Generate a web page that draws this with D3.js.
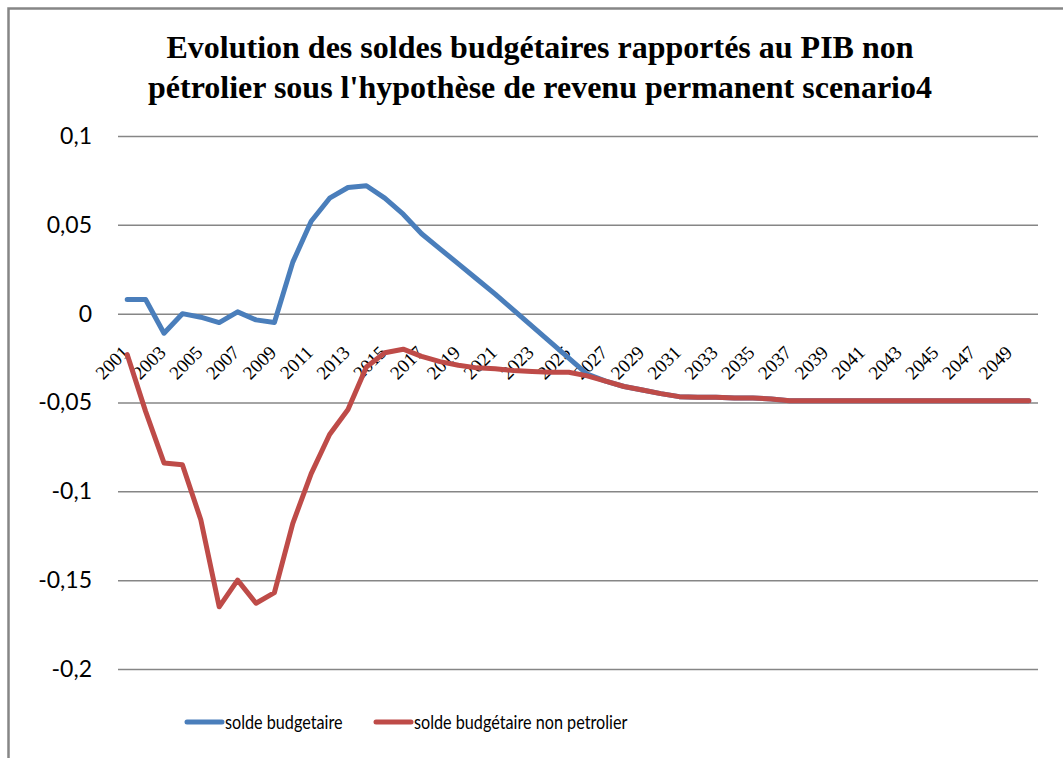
<!DOCTYPE html>
<html>
<head>
<meta charset="utf-8">
<script src="https://cdn.jsdelivr.net/npm/d3@7"></script>
<style>
  body { margin: 0; background: #fff; }
  svg { display: block; }
  .title { font-family: "Liberation Serif", "Times New Roman", serif; font-weight: bold; font-size: 32px; }
  .yax text { font-family: Lato, sans-serif; font-size: 23px; fill: #000; }
  .xax text { font-family: "Liberation Serif", serif; font-size: 19px; fill: #000; }
  .legend text { font-family: Lato, sans-serif; font-size: 20px; }
</style>
</head>
<body>
<div id="chart"></div>
<script>
// years on the category axis
const years = d3.range(2001, 2051);

// solde budgetaire (share of non-oil GDP)
const soldeBudget = [
  0.008, 0.008, -0.011, 0.000, -0.002, -0.005, 0.001, -0.0035, -0.005, 0.029,
  0.052, 0.065, 0.071, 0.072, 0.065, 0.056, 0.045, 0.0365, 0.028, 0.0195,
  0.011, 0.002, -0.007, -0.016, -0.025, -0.034, -0.038, -0.041, -0.043, -0.045,
  -0.0467, -0.047, -0.047, -0.0475, -0.0475, -0.048, -0.049, -0.049, -0.049, -0.049,
  -0.049, -0.049, -0.049, -0.049, -0.049, -0.049, -0.049, -0.049, -0.049, -0.049
];

// solde budgetaire non petrolier
const soldeNonPetrolier = [
  -0.023, -0.055, -0.084, -0.085, -0.116, -0.165, -0.150, -0.163, -0.157, -0.118,
  -0.090, -0.068, -0.054, -0.030, -0.022, -0.020, -0.024, -0.027, -0.029, -0.0305,
  -0.031, -0.032, -0.0325, -0.033, -0.033, -0.035, -0.038, -0.041, -0.043, -0.045,
  -0.0467, -0.047, -0.047, -0.0475, -0.0475, -0.048, -0.049, -0.049, -0.049, -0.049,
  -0.049, -0.049, -0.049, -0.049, -0.049, -0.049, -0.049, -0.049, -0.049, -0.049
];

const yTicks = [-0.2, -0.15, -0.1, -0.05, 0, 0.05, 0.1];
const xTickYears = years.filter(y => y % 2 === 1);

const series = [
  { name: 'solde budgetaire', values: soldeBudget, color: '#4a7ebb' },
  { name: 'solde budgétaire non petrolier', values: soldeNonPetrolier, color: '#be4b48' }
];

const W = 1063, H = 758;
const plotL = 118, plotR = 1038, plotT = 136, plotB = 669;

const svg = d3.select('#chart').append('svg')
  .attr('width', W)
  .attr('height', H);

// outer frame (only top and left are visible in the picture)
svg.append('path')
  .attr('d', `M8.5,${H + 5}V8.5H${W + 5}`)
  .attr('fill', 'none')
  .attr('stroke', '#868686')
  .attr('stroke-width', 2.5);

svg.append('text')
  .attr('class', 'title')
  .attr('text-anchor', 'middle')
  .selectAll('tspan')
  .data(["Evolution des soldes budgétaires rapportés au PIB non",
         "pétrolier sous l'hypothèse de revenu permanent scenario4"])
  .enter().append('tspan')
  .attr('x', 540)
  .attr('y', (d, i) => 58 + i * 40)
  .text(d => d);

const x = d3.scaleBand()
  .domain(years)
  .range([plotL, plotR]);

const y = d3.scaleLinear()
  .domain([-0.2, 0.1])
  .range([plotB, plotT]);

const fmt = v => String(+v.toFixed(2)).replace('.', ',');

// value axis + gridlines
const yAxis = svg.append('g')
  .attr('class', 'yax')
  .attr('transform', `translate(${plotL},0)`)
  .call(d3.axisLeft(y)
    .tickValues(yTicks)
    .tickSize(-(plotR - plotL))
    .tickPadding(26)
    .tickFormat(fmt));
yAxis.select('.domain').remove();
yAxis.selectAll('line')
  .attr('stroke', '#868686')
  .attr('stroke-width', 1.5);

// category axis, crossing at zero
const xAxis = svg.append('g')
  .attr('class', 'xax')
  .attr('transform', `translate(0,${y(0)})`)
  .call(d3.axisBottom(x)
    .tickValues(xTickYears)
    .tickSize(0));
xAxis.select('.domain').remove();
xAxis.selectAll('text')
  .attr('text-anchor', 'end')
  .attr('dy', null)
  .attr('y', 0)
  .attr('transform', 'translate(3,40) rotate(-45)');

const line = d3.line()
  .x((d, i) => x(years[i]) + x.bandwidth() / 2)
  .y(d => y(d));

svg.append('g')
  .selectAll('path')
  .data(series)
  .enter().append('path')
  .attr('d', d => line(d.values))
  .attr('fill', 'none')
  .attr('stroke', d => d.color)
  .attr('stroke-width', 5)
  .attr('stroke-linejoin', 'round')
  .attr('stroke-linecap', 'round');

// legend
const legendPos = [187, 376];
const legend = svg.append('g')
  .attr('class', 'legend')
  .selectAll('g')
  .data(series)
  .enter().append('g')
  .attr('transform', (d, i) => `translate(${legendPos[i]},722)`);

legend.append('line')
  .attr('x1', 0)
  .attr('x2', 35)
  .attr('stroke', d => d.color)
  .attr('stroke-width', 5)
  .attr('stroke-linecap', 'round');

// the original legend font is narrow, squeeze it horizontally
legend.append('text')
  .attr('transform', 'translate(38,0) scale(0.81,1)')
  .attr('dy', '0.35em')
  .text(d => d.name);
</script>
</body>
</html>
